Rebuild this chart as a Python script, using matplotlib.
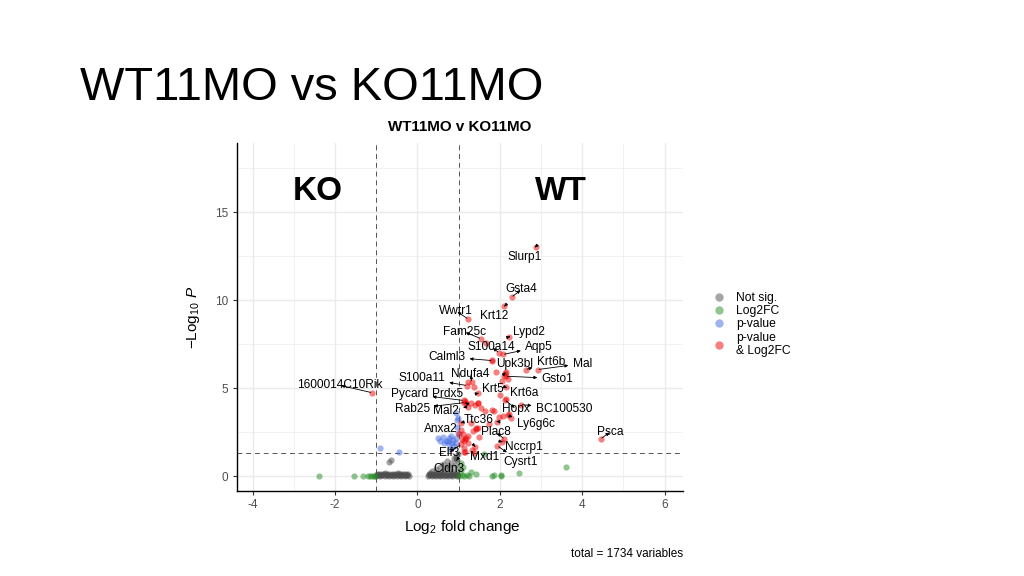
import matplotlib
matplotlib.use('Agg')
import matplotlib.pyplot as plt
from matplotlib.lines import Line2D
from matplotlib.ticker import MultipleLocator
import numpy as np

plt.rcParams['font.family'] = ['Liberation Sans', 'DejaVu Sans']
plt.rcParams['mathtext.fontset'] = 'custom'
plt.rcParams['mathtext.rm'] = 'Liberation Sans'
plt.rcParams['mathtext.it'] = 'Liberation Sans:italic'
plt.rcParams['mathtext.bf'] = 'Liberation Sans:bold'
plt.rcParams['axes.unicode_minus'] = False

# ---------------- data ----------------
slide_title = 'WT11MO vs KO11MO'
plot_title = 'WT11MO v KO11MO'
fc_cutoff = 1.0
p_cutoff = 0.05

# labelled genes: log2 fold change and -log10 p
genes = ['Slurp1', 'Gsta4', 'Krt12', 'Wwtr1', 'Fam25c', 'Lypd2', 'S100a14', 'Aqp5',
         'Calml3', 'Upk3bl', 'Krt6b', 'Mal', 'Gsto1', 'Ndufa4', 'S100a11', 'Krt5',
         'Krt6a', '1600014C10Rik', 'Pycard', 'Prdx5', 'Rab25', 'Mal2', 'Hopx',
         'BC100530', 'Ttc36', 'Ly6g6c', 'Anxa2', 'Plac8', 'Psca', 'Nccrp1', 'Cysrt1',
         'Elf3', 'Mxd1', 'Cldn3']
gene_log2fc = [2.87, 2.29, 2.11, 1.23, 1.54, 2.23, 1.98, 2.08,
               1.82, 2.12, 2.63, 2.92, 2.15, 1.32, 1.20, 1.48,
               2.15, -1.10, 1.12, 1.18, 1.14, 1.22, 2.13,
               2.51, 1.94, 2.19, 1.06, 2.11, 4.45, 2.05, 1.94,
               1.06, 1.40, 0.95]
gene_logp = [13.05, 10.19, 9.66, 8.94, 7.82, 7.92, 7.02, 6.92,
             6.57, 5.85, 6.06, 6.06, 5.68, 5.35, 5.15, 4.72,
             5.05, 4.74, 4.30, 4.15, 4.18, 3.95, 4.32,
             4.07, 3.10, 3.45, 3.03, 2.10, 2.12, 1.95, 1.72,
             1.80, 1.67, 0.90]
# where the repelled labels sit (data units)
label_x = [2.59, 2.53, 1.86, 0.94, 1.14, 2.71, 1.80, 2.95,
           0.71, 2.35, 3.24, 4.00, 3.40, 1.29, 0.10, 1.82,
           2.59, -1.89, -0.19, 0.73, -0.13, 0.69, 2.39,
           3.56, 1.48, 2.87, 0.57, 1.91, 4.69, 2.59, 2.51,
           0.76, 1.62, 0.77]
label_y = [12.45, 10.62, 9.09, 9.38, 8.20, 8.22, 7.33, 7.35,
           6.78, 6.40, 6.48, 6.40, 5.55, 5.82, 5.59, 4.93,
           4.74, 5.17, 4.68, 4.68, 3.83, 3.69, 3.83,
           3.83, 3.18, 2.94, 2.69, 2.50, 2.52, 1.67, 0.80,
           1.33, 1.10, 0.38]

# unlabelled genes
other_log2fc = [
    # not significant, KO side band
    -1.00, -0.95, -0.90, -0.85, -0.80, -0.75, -0.70, -0.65, -0.60, -0.55, -0.50,
    -0.45, -0.40, -0.35, -0.30, -0.25, -0.20, -0.98, -0.93, -0.88, -0.83, -0.78,
    -0.73, -0.68, -0.63, -0.58, -0.53, -0.48, -0.43, -0.38, -0.33, -0.28, -0.23,
    -0.99, -0.91, -0.86, -0.76, -0.71, -0.61, -0.56, -0.46, -0.41, -0.31, -0.26,
    -0.65, -0.68, -0.80, -0.47,
    # not significant, WT side band
    0.25, 0.30, 0.35, 0.40, 0.45, 0.50, 0.55, 0.60, 0.65, 0.70, 0.75, 0.80,
    0.85, 0.90, 0.95, 0.99, 0.28, 0.33, 0.38, 0.43, 0.48, 0.53, 0.58, 0.63,
    0.68, 0.73, 0.78, 0.83, 0.88, 0.93, 0.97, 0.27, 0.37, 0.42, 0.52, 0.57,
    0.67, 0.72, 0.82, 0.87, 0.96,
    0.61, 0.82, 0.94, 0.98, 0.44, 0.36, 0.69, 0.86, 0.98, 0.50, 0.55, 0.75,
    0.90, 0.93, 0.30, 0.62, 0.80, 0.72, 0.88,
    # fold change only
    -2.39, -1.54, -1.32, -1.20, -1.15, -1.10, -1.06, -1.03, 1.02, 1.08, 1.14,
    1.20, 1.25, 1.30, 1.43, 1.82, 1.86, 2.02, 2.04, 2.47, 3.60, 1.06, 1.62,
    1.10, 1.05,
    # p-value only
    -0.92, -0.46, 0.82, 0.73, 0.65, 0.86, 0.94, 0.89, 0.77, 0.98, 0.94, 0.99,
    0.49, 0.61, 0.77, 0.69, 0.85, 0.93, 0.97, 0.55, 0.80, 0.95,
    # p-value and fold change
    1.66, 1.82, 1.38, 1.23, 1.15, 1.40, 1.48, 1.82, 2.11, 2.19, 2.16, 2.15,
    2.27, 1.99, 1.10, 1.19, 1.23, 1.14, 1.22, 1.34, 1.46, 1.30, 1.16, 1.32,
    2.07, 2.23, 1.74, 1.05, 1.08, 1.12, 1.50, 1.63, 2.00, 2.06, 1.90, 1.30,
    1.46, 1.54, 1.86, 1.02, 1.43, 1.15, 1.41, 1.37, 1.14,
]
other_logp = [
    0.02, 0.05, 0.01, 0.06, 0.03, 0.04, 0.02, 0.07, 0.03, 0.05, 0.02,
    0.06, 0.03, 0.04, 0.02, 0.05, 0.01, 0.12, 0.10, 0.13, 0.11, 0.12,
    0.10, 0.13, 0.11, 0.12, 0.10, 0.13, 0.11, 0.12, 0.10, 0.12, 0.11,
    0.07, 0.06, 0.08, 0.07, 0.06, 0.08, 0.07, 0.06, 0.08, 0.07, 0.06,
    0.89, 0.82, 0.19, 0.20,
    0.02, 0.05, 0.01, 0.06, 0.03, 0.04, 0.02, 0.07, 0.03, 0.05, 0.02, 0.06,
    0.03, 0.04, 0.02, 0.05, 0.12, 0.10, 0.13, 0.11, 0.12, 0.10, 0.13, 0.11,
    0.12, 0.10, 0.13, 0.11, 0.12, 0.10, 0.12, 0.07, 0.06, 0.08, 0.07, 0.06,
    0.08, 0.07, 0.06, 0.08, 0.07,
    0.66, 0.76, 0.95, 1.23, 0.38, 0.28, 0.47, 0.28, 0.47, 0.20, 0.50, 0.60,
    0.65, 1.10, 0.18, 0.30, 0.40, 0.85, 1.00,
    0.02, 0.02, 0.02, 0.02, 0.03, 0.02, 0.01, 0.03, 0.03, 0.05, 0.02,
    0.08, 0.03, 0.23, 0.10, 0.02, 0.04, 0.02, 0.05, 0.15, 0.53, 0.76, 1.25,
    0.50, 0.30,
    1.61, 1.36, 2.27, 1.99, 1.90, 2.08, 1.90, 1.70, 1.80, 2.46, 3.60, 3.30,
    2.18, 2.24, 2.18, 1.99, 1.90, 2.18, 3.20, 2.00, 1.55, 2.80,
    7.58, 6.59, 5.08, 5.34, 4.26, 4.07, 4.17, 3.75, 5.68, 5.53, 5.90, 4.36,
    3.32, 3.38, 2.37, 2.18, 2.30, 1.99, 1.90, 2.56, 2.75, 3.03, 1.36, 1.48,
    3.41, 3.51, 2.94, 2.60, 2.10, 1.60, 2.20, 3.70, 4.60, 5.40, 5.90, 4.13,
    4.17, 3.89, 3.69, 2.37, 2.69, 2.10, 2.75, 1.33, 1.36,
]

legend_labels = ['Not sig.', 'Log2FC', 'p-value', 'p-value\n& Log2FC']
point_colors = ['#4D4D4D', '#228B22', '#4169E1', '#EE0000']   # grey30, forestgreen, royalblue, red2
total_label = 'total = 1734 variables'

# ---------------- classification ----------------
all_x = np.array(other_log2fc + gene_log2fc)
all_y = np.array(other_logp + gene_logp)
p_line = -np.log10(p_cutoff)
sig_p = all_y > p_line
sig_fc = np.abs(all_x) > fc_cutoff
cls = np.where(sig_p & sig_fc, 3, np.where(sig_p, 2, np.where(sig_fc, 1, 0)))

# ---------------- figure ----------------
fig = plt.figure(figsize=(10.24, 5.76), dpi=100)
fig.patch.set_facecolor('white')

fig.text(80 / 1024, 1 - 100 / 576, slide_title, fontsize=33.8, va='baseline', ha='left',
         color='black')

ax = fig.add_axes([236.7 / 1024, 1 - 491 / 576, 446 / 1024, 348 / 576])
ax.set_xlim(-4.39, 6.44)
ax.set_ylim(-0.85, 18.95)

ax.set_xticks([-4, -2, 0, 2, 4, 6])
ax.set_yticks([0, 5, 10, 15])
ax.xaxis.set_minor_locator(MultipleLocator(1))
ax.yaxis.set_minor_locator(MultipleLocator(2.5))
ax.grid(which='major', color='#EBEBEB', lw=1.0, zorder=0)
ax.grid(which='minor', color='#EBEBEB', lw=0.5, zorder=0)
ax.set_axisbelow(True)
ax.tick_params(which='minor', length=0)
ax.tick_params(which='major', length=3, width=0.8, color='#333333', labelsize=8.5,
               labelcolor='#4D4D4D', pad=3)
for s in ['top', 'right']:
    ax.spines[s].set_visible(False)
for s in ['left', 'bottom']:
    ax.spines[s].set_linewidth(1.0)
    ax.spines[s].set_color('black')

# cutoff lines
for v in (-fc_cutoff, fc_cutoff):
    ax.axvline(v, color='#555555', lw=0.7, ls=(0, (5, 4)), zorder=1)
ax.axhline(p_line, color='#555555', lw=0.7, ls=(0, (5, 4)), zorder=1)

# points
for k in range(4):
    m = cls == k
    ax.scatter(all_x[m], all_y[m], s=20, c=point_colors[k], alpha=0.5, linewidths=0,
               zorder=2)

# labels with connectors
for name, px, py, lx, ly in zip(genes, gene_log2fc, gene_logp, label_x, label_y):
    ax.annotate(name, xy=(px, py), xytext=(lx, ly), ha='center', va='center',
                fontsize=8.6, color='black', zorder=4,
                arrowprops=dict(arrowstyle='<|-,head_length=0.22,head_width=0.1',
                                color='black', lw=0.6, shrinkA=1, shrinkB=1))

# KO / WT annotations
ax.text(-2.42, 15.68, 'KO', fontsize=24, fontweight='bold', ha='center', va='baseline')
ax.text(3.48, 15.68, 'WT', fontsize=24, fontweight='bold', ha='center', va='baseline')

ax.set_xlabel(r'Log$_2$ fold change', fontsize=11)
ax.set_ylabel(r'$-$Log$_{10}$ $\mathit{P}$', fontsize=11)
ax.xaxis.set_label_coords(0.505, -0.078)
ax.yaxis.set_label_coords(-0.078, 0.5)

fig.text(459.7 / 1024, 1 - 130.7 / 576, plot_title, fontsize=10.9, fontweight='bold',
         ha='center', va='baseline')

# legend
handles = [Line2D([], [], ls='none', marker='o', markersize=6, markerfacecolor=c,
                  markeredgewidth=0, alpha=0.5) for c in point_colors]
fig.legend(handles, legend_labels, loc='upper left',
           bbox_to_anchor=(713.4 / 1024, 1 - 292 / 576), frameon=False, borderpad=0,
           borderaxespad=0, handlelength=1.0, handletextpad=0.9, labelspacing=0.1,
           fontsize=8.7)

fig.text(682.7 / 1024, 1 - 556.7 / 576, total_label, fontsize=8.5, ha='right',
         va='baseline')

fig.savefig('out.png', dpi=100, facecolor='white')
